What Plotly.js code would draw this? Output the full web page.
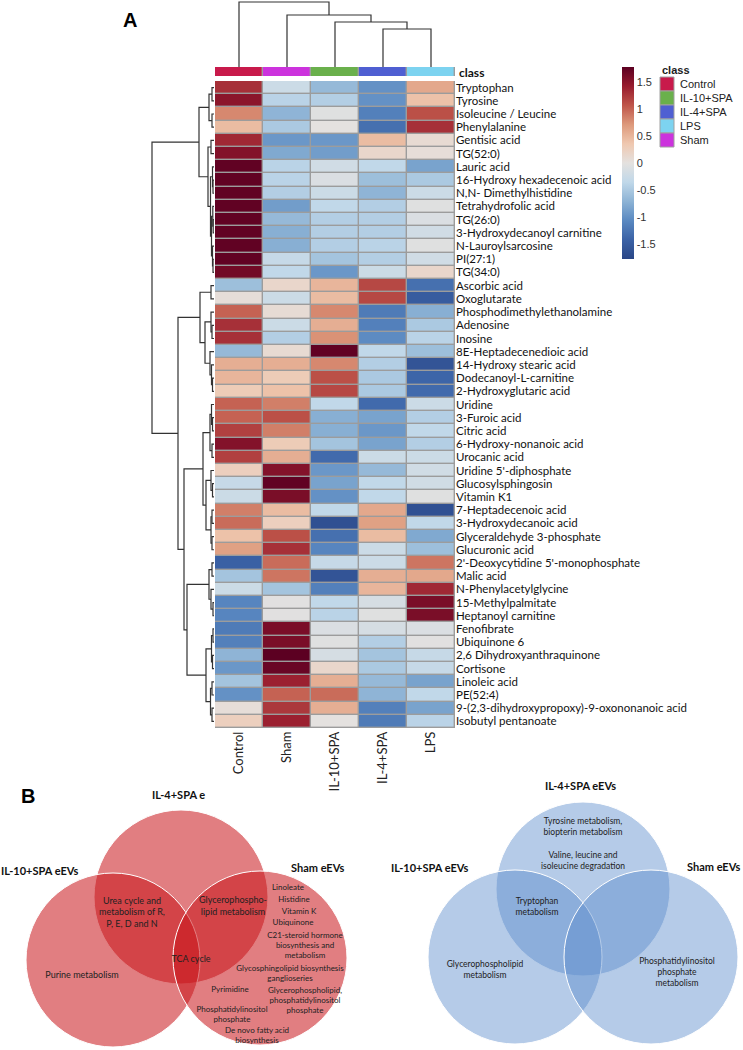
<!DOCTYPE html>
<html>
<head>
<meta charset="utf-8">
<script src="https://cdn.plot.ly/plotly-3.0.1.min.js"></script>
<style>
body { margin: 0; background: #fff; }
#chart { width: 743px; height: 1050px; }
</style>
</head>
<body>
<div id="chart"></div>
<script>
// heatmap columns, in clustered order
var groups = ["Control", "Sham", "IL-10+SPA", "IL-4+SPA", "LPS"];
var legendGroups = ["Control", "IL-10+SPA", "IL-4+SPA", "LPS", "Sham"];

var metabolites = [
  "Tryptophan", "Tyrosine", "Isoleucine / Leucine", "Phenylalanine", "Gentisic acid",
  "TG(52:0)", "Lauric acid", "16-Hydroxy hexadecenoic acid", "N,N- Dimethylhistidine",
  "Tetrahydrofolic acid", "TG(26:0)", "3-Hydroxydecanoyl carnitine", "N-Lauroylsarcosine",
  "PI(27:1)", "TG(34:0)", "Ascorbic acid", "Oxoglutarate", "Phosphodimethylethanolamine",
  "Adenosine", "Inosine", "8E-Heptadecenedioic acid", "14-Hydroxy stearic acid",
  "Dodecanoyl-L-carnitine", "2-Hydroxyglutaric acid", "Uridine", "3-Furoic acid",
  "Citric acid", "6-Hydroxy-nonanoic acid", "Urocanic acid", "Uridine 5'-diphosphate",
  "Glucosylsphingosin", "Vitamin K1", "7-Heptadecenoic acid", "3-Hydroxydecanoic acid",
  "Glyceraldehyde 3-phosphate", "Glucuronic acid", "2'-Deoxycytidine 5'-monophosphate",
  "Malic acid", "N-Phenylacetylglycine", "15-Methylpalmitate", "Heptanoyl carnitine",
  "Fenofibrate", "Ubiquinone 6", "2,6 Dihydroxyanthraquinone", "Cortisone", "Linoleic acid",
  "PE(52:4)", "9-(2,3-dihydroxypropoxy)-9-oxononanoic acid", "Isobutyl pentanoate"
];

// scaled abundance per group (same order as metabolites)
var zControl = [1.3, 1.5, 0.8, 0.45, 1.35, 1.55, 1.75, 1.75, 1.75, 1.75, 1.75, 1.75, 1.75, 1.75, 1.65,
  -0.6, 0.05, 1.0, 1.3, 1.3, -0.65, 0.55, 0.5, 0.3,
  1.0, 1.0, 1.2, 1.55, 1.2, 0.25, -0.3, -0.25,
  0.85, 0.95, 0.4, 0.65,
  -1.45, -0.55, -0.25, -1.1, -1.1,
  -1.2, -1.15, -0.7, -0.95, -0.55, -1.0, 0.05, 0.25];
var zSham = [-0.25, -0.4, -0.7, -0.5, -0.95, -0.8, -0.4, -0.4, -0.45, -0.9, -0.65, -0.75, -0.75, -0.3, -0.35,
  0.15, -0.25, 0.08, -0.25, -0.45, 0.1, 0.55, 0.3, 0.4,
  0.85, 1.1, 0.85, 0.3, 0.55, 1.55, 1.75, 1.6,
  0.45, 0.25, 1.1, 1.3,
  0.95, 0.9, -0.55, -0.03, -0.03,
  1.6, 1.6, 1.78, 1.7, 1.4, 1.0, 1.25, 1.4];
var zIL10 = [-0.65, -0.45, -0.05, 0.0, -0.95, -0.9, -0.2, -0.1, -0.25, -0.35, -0.45, -0.45, -0.45, -0.55, -0.95,
  0.5, 0.45, 0.8, 0.55, 0.75, 1.75, 0.8, 1.1, 1.15,
  -0.35, -0.75, -0.75, -0.55, -1.35, -0.95, -0.85, -1.0,
  -0.35, -1.65, -1.3, -1.1,
  -0.3, -1.6, -1.15, -0.35, -0.4,
  -0.1, -0.05, -0.15, 0.15, 0.55, 0.95, 0.55, 0.0];
var zIL4 = [-1.0, -1.0, -1.15, -1.3, 0.45, 0.15, -0.35, -0.6, -0.7, -0.45, -0.45, -0.45, -0.4, -0.45, -0.25,
  1.15, 1.15, -1.2, -1.15, -1.05, -0.35, -0.45, -0.5, -0.5,
  -1.35, -0.85, -0.95, -0.85, -0.25, -0.65, -0.35, -0.35,
  0.6, 0.65, 0.45, -0.25,
  -0.25, 0.55, 0.5, -0.15, -0.05,
  -0.15, -0.45, -0.55, -0.5, -0.65, -0.7, -1.15, -1.2];
var zLPS = [0.6, 0.4, 1.1, 1.3, 0.1, 0.05, -0.85, -0.5, -0.25, -0.05, -0.1, -0.2, -0.05, -0.2, 0.15,
  -1.3, -1.5, -0.75, -0.5, -0.4, -0.6, -1.6, -1.4, -1.35,
  -0.25, -0.45, -0.35, -0.45, -0.25, -0.2, -0.2, -0.05,
  -1.65, -0.35, -0.8, -0.6,
  0.9, 0.6, 1.35, 1.6, 1.6,
  -0.1, -0.03, -0.3, -0.3, -0.85, -0.35, -0.85, -0.4];

// dendrograms: [left, right, height], leaves are indices
var rowTree = [
  [[[0, 1, 2], [2, 3, 2], 5],
   [[4, 5, 3], [[6, [7, 8, 1], 1.5], [[9, [10, 11, 0.8], 1.2], [12, [13, 14, 1], 1.5], 2.5], 3.5], 6], 15],
  [[[15, 16, 3], [[17, [18, 19, 2], 3], [20, [21, [22, 23, 1.5], 2.5], 4], 9], 14],
   [[[[24, [25, 26, 1.5], 2.5], [27, 28, 2], 4], [[29, [30, 31, 1.5], 3], [[32, 33, 2], [34, 35, 2], 3], 8], 11],
    [[[36, 37, 2], [38, [39, 40, 1], 3], 5], [[[41, 42, 1], [43, 44, 1.5], 2.5], [[45, 46, 2], [47, 48, 2], 3.5], 8], 27], 30], 36],
  62];
var colTree = [0, [1, [2, [3, 4, 38], 45], 52], 65];

// venn diagram set names
var vennRedSets = ["IL-4+SPA e", "IL-10+SPA eEVs", "Sham eEVs"];
var vennBlueSets = ["IL-4+SPA eEVs", "IL-10+SPA eEVs", "Sham eEVs"];

var W = 743, H = 1050;
function fx(px) { return px / W; }
function fy(py) { return 1 - py / H; }

var classColors = {"Control": "#c81a4b", "Sham": "#cc33dd", "IL-10+SPA": "#6ab04c",
                   "IL-4+SPA": "#4f5fd2", "LPS": "#7dd3f0"};

var colorscale = [
  [0, "#2a4686"], [0.1, "#3b62a6"], [0.2, "#5a89c1"], [0.3, "#8db3d5"], [0.4, "#c0d8e9"],
  [0.5, "#e4e1df"], [0.6, "#efc8b0"], [0.7, "#dd997b"], [0.8, "#bf554a"], [0.9, "#981c2e"],
  [1, "#5c0022"]
];

var z = [];
for (var i = 0; i < metabolites.length; i++) {
  z.push([zControl[i], zSham[i], zIL10[i], zIL4[i], zLPS[i]]);
}
var rowIdx = metabolites.map(function (d, i) { return i; });
var colIdx = groups.map(function (d, i) { return i; });

// walk a tree and collect the bracket segments
function dendro(node, segs) {
  if (typeof node === "number") return {pos: node, h: 0};
  var a = dendro(node[0], segs), b = dendro(node[1], segs), h = node[2];
  segs.push([[a.pos, a.h], [a.pos, h], [b.pos, h], [b.pos, b.h]]);
  return {pos: (a.pos + b.pos) / 2, h: h};
}
var rowSegs = [], colSegs = [];
dendro(rowTree, rowSegs);
dendro(colTree, colSegs);

var rdx = [], rdy = [], cdx = [], cdy = [];
rowSegs.forEach(function (s) {
  s.forEach(function (p) { rdx.push(p[1]); rdy.push(p[0]); });
  rdx.push(null); rdy.push(null);
});
colSegs.forEach(function (s) {
  s.forEach(function (p) { cdx.push(p[0]); cdy.push(p[1]); });
  cdx.push(null); cdy.push(null);
});

var heat = {
  type: "heatmap", z: z, x: colIdx, y: rowIdx, xaxis: "x", yaxis: "y",
  colorscale: colorscale, zmin: -1.78, zmax: 1.78, xgap: 1.4, ygap: 1.4,
  hoverinfo: "skip",
  colorbar: {
    x: fx(622), xanchor: "left", y: fy(67), yanchor: "top",
    len: (259 - 67) / H, lenmode: "fraction", thickness: 12,
    outlinewidth: 0, xpad: 0, ypad: 0, ticks: "",
    tickvals: [-1.5, -1, -0.5, 0, 0.5, 1, 1.5],
    ticktext: ["-1.5", "-1", "-0.5", "0", "0.5", "1", "1.5"],
    tickfont: {family: "Liberation Sans, Arial", size: 11, color: "#333"}
  }
};

var classScale = groups.map(function (g, i) {
  return [[i / groups.length, classColors[g]], [(i + 1) / groups.length, classColors[g]]];
}).reduce(function (a, b) { return a.concat(b); }, []);

var classBar = {
  type: "heatmap", z: [colIdx], x: colIdx, xaxis: "x", yaxis: "y2",
  colorscale: classScale, zmin: -0.5, zmax: groups.length - 0.5,
  showscale: false, xgap: 1.4, hoverinfo: "skip"
};

var rowDendro = {
  type: "scatter", mode: "lines", x: rdx, y: rdy, xaxis: "x3", yaxis: "y",
  line: {color: "#333", width: 1.2}, hoverinfo: "skip"
};
var colDendro = {
  type: "scatter", mode: "lines", x: cdx, y: cdy, xaxis: "x", yaxis: "y4",
  line: {color: "#333", width: 1.2}, hoverinfo: "skip"
};

// venn layout (pixel units on the x5/y5 pair)
var vennR = 87;
var redCircles = [[181, 897], [113, 960], [260, 958]];
var blueCircles = [[583, 889], [515, 957], [651, 957]];

var redText = [
  ["Urea cycle and<br>metabolism of R,<br>P, E, D and N", 132, 913, 9],
  ["Glycerophospho-<br>lipid metabolism", 233, 907, 9],
  ["TCA cycle", 191, 960, 9],
  ["Purine metabolism", 82, 976, 9],
  ["Linoleate", 288, 888, 8],
  ["Histidine", 294, 900, 8],
  ["Vitamin K", 299, 912, 8],
  ["Ubiquinone", 293, 923, 8],
  ["C21-steroid hormone<br>biosynthesis and<br>metabolism", 305, 946, 8],
  ["Glycosphingolipid biosynthesis<br>ganglioseries", 290, 974, 8],
  ["Pyrimidine", 230, 990, 8],
  ["Glycerophospholipid,<br>phosphatidylinositol<br>phosphate", 305, 1001, 8],
  ["Phosphatidylinositol<br>phosphate", 232, 1015, 8],
  ["De novo fatty acid<br>biosynthesis", 257, 1036, 8]
];
var blueText = [
  ["Tyrosine metabolism,<br>biopterin metabolism", 583, 827, 8.5],
  ["Valine, leucine and<br>isoleucine degradation", 583, 861, 8.5],
  ["Tryptophan<br>metabolism", 537, 907, 8.5],
  ["Glycerophospholipid<br>metabolism", 485, 970, 8.5],
  ["Phosphatidylinositol<br>phosphate<br>metabolism", 677, 973, 8.5]
];
var vennLabels = redText.concat(blueText);
var vennTextTrace = {
  type: "scatter", mode: "text", xaxis: "x5", yaxis: "y5",
  x: vennLabels.map(function (d) { return d[1]; }),
  y: vennLabels.map(function (d) { return d[2]; }),
  text: vennLabels.map(function (d) { return d[0]; }),
  textposition: "middle center",
  textfont: {family: "Lato, Open Sans", size: vennLabels.map(function (d) { return d[3]; }), color: "#222"},
  hoverinfo: "skip"
};

var shapes = [
  {type: "rect", xref: "x", yref: "y", x0: -0.52, x1: 4.52, y0: -0.52, y1: metabolites.length - 0.48,
   fillcolor: "#9c9c9c", line: {width: 0}, layer: "below"},
  {type: "rect", xref: "x", yref: "y2", x0: -0.52, x1: 4.52, y0: -0.56, y1: 0.56,
   fillcolor: "#9c9c9c", line: {width: 0}, layer: "below"}
];
redCircles.forEach(function (c) {
  shapes.push({type: "circle", xref: "x5", yref: "y5", x0: c[0] - vennR, x1: c[0] + vennR,
    y0: c[1] - vennR, y1: c[1] + vennR, fillcolor: "rgba(200,20,25,0.55)",
    line: {color: "#ffffff", width: 1}, layer: "below"});
});
blueCircles.forEach(function (c) {
  shapes.push({type: "circle", xref: "x5", yref: "y5", x0: c[0] - vennR, x1: c[0] + vennR,
    y0: c[1] - vennR, y1: c[1] + vennR, fillcolor: "rgba(90,140,205,0.45)",
    line: {color: "#ffffff", width: 1}, layer: "below"});
});
// class legend swatches
legendGroups.forEach(function (g, i) {
  shapes.push({type: "rect", xref: "paper", yref: "paper", x0: fx(660), x1: fx(674),
    y0: fy(77 + 14 * (i + 1)), y1: fy(77 + 14 * i), fillcolor: classColors[g],
    line: {color: "#a0a0a0", width: 1}});
});

var annotations = [
  {text: "<b>A</b>", x: fx(130), y: fy(20), font: {family: "Liberation Sans, Arial", size: 20, color: "#000"}},
  {text: "<b>B</b>", x: fx(28), y: fy(796), font: {family: "Liberation Sans, Arial", size: 20, color: "#000"}},
  {text: "<b>class</b>", x: fx(457), y: fy(72), xanchor: "left", font: {family: "Lato", size: 12, color: "#111"}},
  {text: "<b>class</b>", x: fx(660), y: fy(70), xanchor: "left", font: {family: "Liberation Sans, Arial", size: 11, color: "#222"}}
];
legendGroups.forEach(function (g, i) {
  annotations.push({text: g, x: fx(678), y: fy(84 + 14 * i), xanchor: "left",
    font: {family: "Liberation Sans, Arial", size: 11, color: "#222"}});
});
var vennTitles = [
  [vennRedSets[0], 178, 794], [vennRedSets[1], 40, 870], [vennRedSets[2], 318, 867],
  [vennBlueSets[0], 580, 785], [vennBlueSets[1], 430, 867], [vennBlueSets[2], 714, 866]
];
vennTitles.forEach(function (t) {
  annotations.push({text: "<b>" + t[0] + "</b>", x: fx(t[1]), y: fy(t[2]),
    font: {family: "Lato, Open Sans", size: 11, color: "#111"}});
});
annotations.forEach(function (a) {
  a.xref = a.xref || "paper"; a.yref = a.yref || "paper"; a.showarrow = false;
  if (!a.xanchor) a.xanchor = "center";
  a.yanchor = "middle";
});

var layout = {
  width: W, height: H,
  margin: {l: 0, r: 0, t: 0, b: 0},
  paper_bgcolor: "#ffffff",
  plot_bgcolor: "rgba(0,0,0,0)",
  showlegend: false,
  xaxis: {domain: [fx(215), fx(455)], range: [-0.5, 4.5], anchor: "y",
    tickmode: "array", tickvals: colIdx, ticktext: groups, tickangle: -90, ticks: "",
    showgrid: false, zeroline: false, showline: false,
    tickfont: {family: "Lato", size: 13, color: "#222"}},
  yaxis: {domain: [fy(728), fy(81)], range: [metabolites.length - 0.5, -0.5], anchor: "x",
    side: "right", tickmode: "array", tickvals: rowIdx, ticktext: metabolites, ticks: "",
    showgrid: false, zeroline: false, showline: false,
    tickfont: {family: "Lato", size: 11.5, color: "#111"}},
  yaxis2: {domain: [fy(76), fy(67)], range: [-0.5, 0.5], anchor: "x", visible: false},
  xaxis3: {domain: [fx(149), fx(214)], range: [65, 0], anchor: "y", visible: false},
  yaxis4: {domain: [fy(67), fy(1)], range: [0, 66], anchor: "x", visible: false},
  xaxis5: {domain: [0, 1], range: [0, W], anchor: "y5", visible: false},
  yaxis5: {domain: [0, fy(780)], range: [H, 780], anchor: "x5", visible: false},
  shapes: shapes,
  annotations: annotations
};

Plotly.newPlot("chart", [heat, classBar, rowDendro, colDendro, vennTextTrace], layout, {staticPlot: true});
</script>
</body>
</html>
